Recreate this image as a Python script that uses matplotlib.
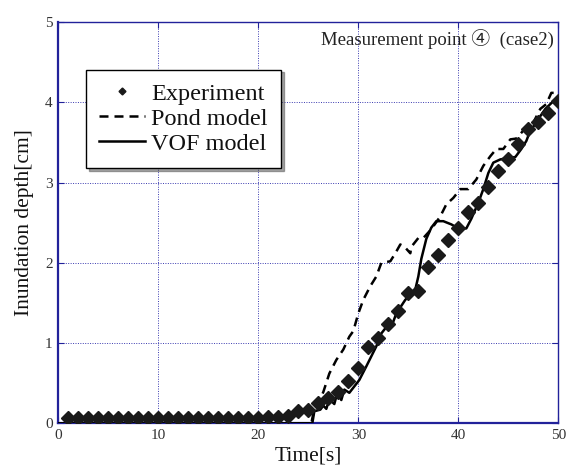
import matplotlib
matplotlib.use("Agg")
import matplotlib.pyplot as plt
import numpy as np

# Measured inundation depth (one sample per second)
exp_time = list(range(1, 51))
exp_depth = [0.06] * 19 + [0.07, 0.08, 0.08, 0.09, 0.15, 0.16, 0.25, 0.31, 0.39,
                           0.53, 0.69, 0.95, 1.06, 1.24, 1.40, 1.62, 1.65, 1.95, 2.10,
                           2.29, 2.44, 2.63, 2.75, 2.95, 3.15, 3.30, 3.48, 3.67, 3.76,
                           3.87, 4.02]

# Pond model result
pond_time = [0, 25.3, 25.5, 26.0, 26.5, 27.1, 27.8, 28.5, 29.1, 29.5, 30.0, 30.5,
             31.2, 31.8, 32.3, 33.2, 33.7, 34.2, 34.7, 35.2, 35.3, 36.0, 36.5, 37.3,
             38.2, 38.8, 39.5, 40.2, 41.0, 41.8, 42.5, 43.2, 43.8, 44.5, 45.2, 45.8,
             46.5, 47.5, 48.2, 48.8, 49.3, 49.8]
pond_depth = [0, 0.0, 0.12, 0.25, 0.39, 0.62, 0.79, 0.92, 1.08, 1.15, 1.37, 1.54,
              1.71, 1.83, 2.00, 2.02, 2.12, 2.23, 2.19, 2.12, 2.20, 2.31, 2.31, 2.42,
              2.58, 2.73, 2.81, 2.92, 2.92, 3.04, 3.21, 3.33, 3.42, 3.42, 3.54, 3.55,
              3.65, 3.75, 3.92, 3.98, 4.12, 4.12]

# VOF model result
vof_time = [0, 25.4, 25.6, 26.2, 26.5, 26.8, 27.1, 27.6, 27.9, 28.3, 28.6, 29.1,
            29.6, 30.1, 30.8, 31.2, 31.8, 32.3, 32.8, 33.3, 33.8, 34.7, 35.7, 36.0,
            36.3, 36.8, 37.3, 37.8, 38.5, 39.3, 40.0, 40.8, 41.3, 42.0, 42.5, 43.0,
            43.5, 44.2, 45.0, 45.7, 46.3, 46.8, 47.2, 47.7, 48.2, 48.7, 49.2, 49.7, 50.0]
vof_depth = [0, 0.0, 0.15, 0.17, 0.22, 0.18, 0.30, 0.24, 0.38, 0.29, 0.42, 0.38,
             0.46, 0.54, 0.71, 0.81, 0.96, 1.12, 1.20, 1.20, 1.37, 1.54, 1.67, 1.83,
             2.05, 2.30, 2.44, 2.52, 2.52, 2.48, 2.43, 2.43, 2.55, 2.75, 2.92, 3.12,
             3.25, 3.29, 3.31, 3.32, 3.42, 3.52, 3.65, 3.73, 3.83, 3.92, 3.98, 4.04, 4.00]

x_ticks = [0, 10, 20, 30, 40, 50]
y_ticks = [0, 1, 2, 3, 4, 5]

SERIF = ["Liberation Serif", "Noto Sans CJK JP", "DejaVu Sans"]
plt.rcParams["font.family"] = SERIF

frame = "#22229a"
grid_c = "#3a3ab0"

fig = plt.figure(figsize=(5.75, 4.72), dpi=100)
ax = fig.add_axes([0.1014, 0.1032, 0.8696, 0.8496])

ax.plot(pond_time, pond_depth, color="black", lw=1.8, ls=(0, (3.6, 2.4)),
        label="Pond model", zorder=3)
ax.plot(vof_time, vof_depth, color="black", lw=1.8, ls="-",
        label="VOF model", zorder=3)
ax.plot(exp_time, exp_depth, ls="none", marker="D", ms=7, color="#1a1a1a",
        mec="#1a1a1a", label="Experiment", zorder=4)

ax.set_xlim(0, 50)
ax.set_ylim(0, 5)
ax.set_xticks(x_ticks)
ax.set_yticks(y_ticks)
ax.grid(True, color=grid_c, ls=(0, (1, 1.5)), lw=0.7)
ax.set_axisbelow(True)

for s in ax.spines.values():
    s.set_color(frame)
    s.set_linewidth(1.0)
ax.spines["left"].set_linewidth(1.6)
ax.spines["bottom"].set_linewidth(1.6)

ax.tick_params(axis="both", direction="in", length=4, width=0.8, color=frame,
               labelsize=11, labelcolor="#333333", top=True, right=True, pad=4)

ax.set_xlabel("Time[s]", fontsize=15.5, labelpad=3, color="#111111")
ax.set_ylabel("Inundation depth[cm]", fontsize=15.5, labelpad=8, color="#111111")

ax.text(0.992, 0.955, "Measurement point ④  (case2)", transform=ax.transAxes,
        ha="right", va="center", fontsize=13.5, color="#222222", family=SERIF)

handles, labels = ax.get_legend_handles_labels()
order = [2, 0, 1]
leg = ax.legend([handles[i] for i in order], [labels[i] for i in order],
                loc="upper left", bbox_to_anchor=(0.055, 0.882), fontsize=17.5,
                frameon=True, fancybox=False, shadow=True, edgecolor="black",
                framealpha=1, handlelength=1.9, handletextpad=0.25,
                labelspacing=0.12, borderpad=0.55, markerscale=0.5, numpoints=1,
                borderaxespad=0)
leg.get_frame().set_linewidth(1.0)
for t in leg.get_texts():
    t.set_color("#111111")

fig.savefig("out.png", dpi=100)
